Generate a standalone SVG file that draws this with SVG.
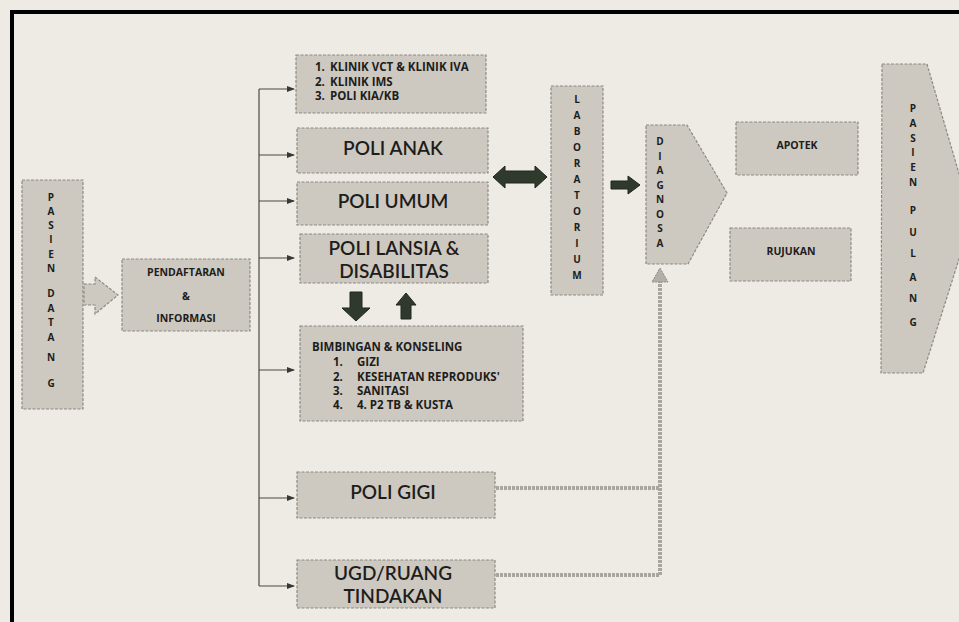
<svg xmlns="http://www.w3.org/2000/svg" width="959" height="622" viewBox="0 0 959 622">
<style>
.box{fill:#cdc9c1;stroke:#8e8a83;stroke-width:1.2;stroke-dasharray:3 1.5}
.t{fill:#1e1d1b}
.s{font-family:"Open Sans","Liberation Sans",sans-serif;font-size:10.5px;font-weight:700}
.m{font-family:"Open Sans","Liberation Sans",sans-serif;font-size:11.5px;font-weight:700}
.b{font-family:Lato,"Open Sans","Liberation Sans",sans-serif;font-size:19px;font-weight:600}
.v{font-family:"Open Sans","Liberation Sans",sans-serif;font-size:10px;font-weight:700;text-anchor:middle}
.c{text-anchor:middle}
.conn{fill:none;stroke:#4a4844;stroke-width:1.2}
.gray{fill:none;stroke:#aaa69f;stroke-width:4;stroke-dasharray:3 1}
.dark{fill:#2f3a2c;stroke:#1f261d;stroke-width:1}
</style>
<defs>
<marker id="ah" markerWidth="8" markerHeight="6" refX="7" refY="3" orient="auto" markerUnits="userSpaceOnUse">
<path d="M0,0 L8,3 L0,6 Z" fill="#3a3834"/>
</marker>
</defs>
<rect width="959" height="622" fill="#eeebe5"/>
<path d="M12,622 V12 H959" fill="none" stroke="#000" stroke-width="4"/>

<g id="connectors">
<path class="conn" d="M259,89 V586"/>
<path class="conn" d="M259,89 H294" marker-end="url(#ah)"/>
<path class="conn" d="M259,155 H294" marker-end="url(#ah)"/>
<path class="conn" d="M259,201 H294" marker-end="url(#ah)"/>
<path class="conn" d="M259,258 H294" marker-end="url(#ah)"/>
<path class="conn" d="M259,370 H294" marker-end="url(#ah)"/>
<path class="conn" d="M259,498 H294" marker-end="url(#ah)"/>
<path class="conn" d="M259,586 H294" marker-end="url(#ah)"/>
<path class="box" d="M84,284 H95 V277 L118,295 L95,314 V305 H84 Z"/>
<path class="dark" d="M493,177 L505,166 V171 H535 V166 L547,177 L535,188 V183 H505 V188 Z"/>
<path class="dark" d="M611,181 H628 V176 L640,185 L628,194 V189 H611 Z"/>
<path class="dark" d="M350,292 H362 V308 H370 L356,321 L342,308 H350 Z"/>
<path class="dark" d="M406,293 L416,305 H411 V319 H401 V305 H396 Z"/>
<path class="gray" d="M496,488 H660"/>
<path class="gray" d="M496,575 H660 V282"/>
<path d="M660,268 L668,282 H652 Z" fill="#b3afa8" stroke="#8e8a83" stroke-width="1" stroke-dasharray="2 1"/>
</g>

<g id="pasien-datang">
<rect class="box" x="22" y="180" width="61" height="229"/>
<g class="t v">
<text x="51" y="201">P</text><text x="51" y="215">A</text><text x="51" y="229">S</text><text x="51" y="243">I</text><text x="51" y="258">E</text><text x="51" y="272">N</text>
<text x="51" y="297">D</text><text x="51" y="312">A</text><text x="51" y="326">T</text><text x="51" y="341">A</text><text x="51" y="361">N</text><text x="51" y="387">G</text>
</g>
</g>

<g id="pendaftaran">
<rect class="box" x="122" y="259" width="128" height="72"/>
<text class="t s c" x="186" y="276">PENDAFTARAN</text>
<text class="t s c" x="186" y="300">&amp;</text>
<text class="t s c" x="186" y="322">INFORMASI</text>
</g>

<g id="klinik">
<rect class="box" x="296" y="55" width="190" height="58"/>
<text class="t m" x="315" y="71">1.</text><text class="t m" x="330" y="71">KLINIK VCT &amp; KLINIK IVA</text>
<text class="t m" x="315" y="86">2.</text><text class="t m" x="330" y="86">KLINIK IMS</text>
<text class="t m" x="315" y="100">3.</text><text class="t m" x="330" y="100">POLI KIA/KB</text>
</g>

<g id="poli-anak">
<rect class="box" x="297" y="128" width="191" height="45"/>
<text class="t b c" x="393" y="155">POLI ANAK</text>
</g>

<g id="poli-umum">
<rect class="box" x="297" y="182" width="191" height="43"/>
<text class="t b c" x="393" y="208">POLI UMUM</text>
</g>

<g id="poli-lansia">
<rect class="box" x="300" y="234" width="188" height="49"/>
<text class="t b c" x="394" y="255">POLI LANSIA &amp;</text>
<text class="t b c" x="394" y="278">DISABILITAS</text>
</g>

<g id="bimbingan">
<rect class="box" x="300" y="326" width="223" height="95"/>
<text class="t m" x="312" y="351">BIMBINGAN &amp; KONSELING</text>
<text class="t m" x="333" y="366">1.</text><text class="t m" x="357" y="366">GIZI</text>
<text class="t m" x="333" y="381">2.</text><text class="t m" x="357" y="381">KESEHATAN REPRODUKS'</text>
<text class="t m" x="333" y="395">3.</text><text class="t m" x="357" y="395">SANITASI</text>
<text class="t m" x="333" y="409">4.</text><text class="t m" x="357" y="409">4. P2 TB &amp; KUSTA</text>
</g>

<g id="poli-gigi">
<rect class="box" x="297" y="472" width="198" height="46"/>
<text class="t b c" x="393" y="499">POLI GIGI</text>
</g>

<g id="ugd">
<rect class="box" x="297" y="560" width="198" height="48"/>
<text class="t b c" x="393" y="580">UGD/RUANG</text>
<text class="t b c" x="393" y="603">TINDAKAN</text>
</g>

<g id="laboratorium">
<rect class="box" x="551" y="86" width="52" height="209"/>
<g class="t v">
<text x="577" y="103">L</text><text x="577" y="119">A</text><text x="577" y="135">B</text><text x="577" y="151">O</text><text x="577" y="167">R</text><text x="577" y="183">A</text>
<text x="577" y="199">T</text><text x="577" y="215">O</text><text x="577" y="231">R</text><text x="577" y="247">I</text><text x="577" y="263">U</text><text x="577" y="279">M</text>
</g>
</g>

<g id="diagnosa">
<path class="box" d="M646,125 H687 L727,193 L688,264 H646 Z"/>
<g class="t v">
<text x="660" y="145">D</text><text x="660" y="160">I</text><text x="660" y="174">A</text><text x="660" y="189">G</text>
<text x="660" y="203">N</text><text x="660" y="218">O</text><text x="660" y="232">S</text><text x="660" y="247">A</text>
</g>
</g>

<g id="apotek">
<rect class="box" x="736" y="122" width="122" height="53"/>
<text class="t s c" x="797" y="149">APOTEK</text>
</g>

<g id="rujukan">
<rect class="box" x="730" y="228" width="121" height="53"/>
<text class="t s c" x="791" y="255">RUJUKAN</text>
</g>

<g id="pasien-pulang">
<path class="box" d="M882,64 H927 L972,218 L923,373 H881 Z"/>
<g class="t v">
<text x="913" y="112">P</text><text x="913" y="127">A</text><text x="913" y="142">S</text><text x="913" y="156">I</text><text x="913" y="171">E</text><text x="913" y="186">N</text>
<text x="913" y="214">P</text><text x="913" y="236">U</text><text x="913" y="257">L</text><text x="913" y="281">A</text><text x="913" y="302">N</text><text x="913" y="326">G</text>
</g>
</g>
</svg>
